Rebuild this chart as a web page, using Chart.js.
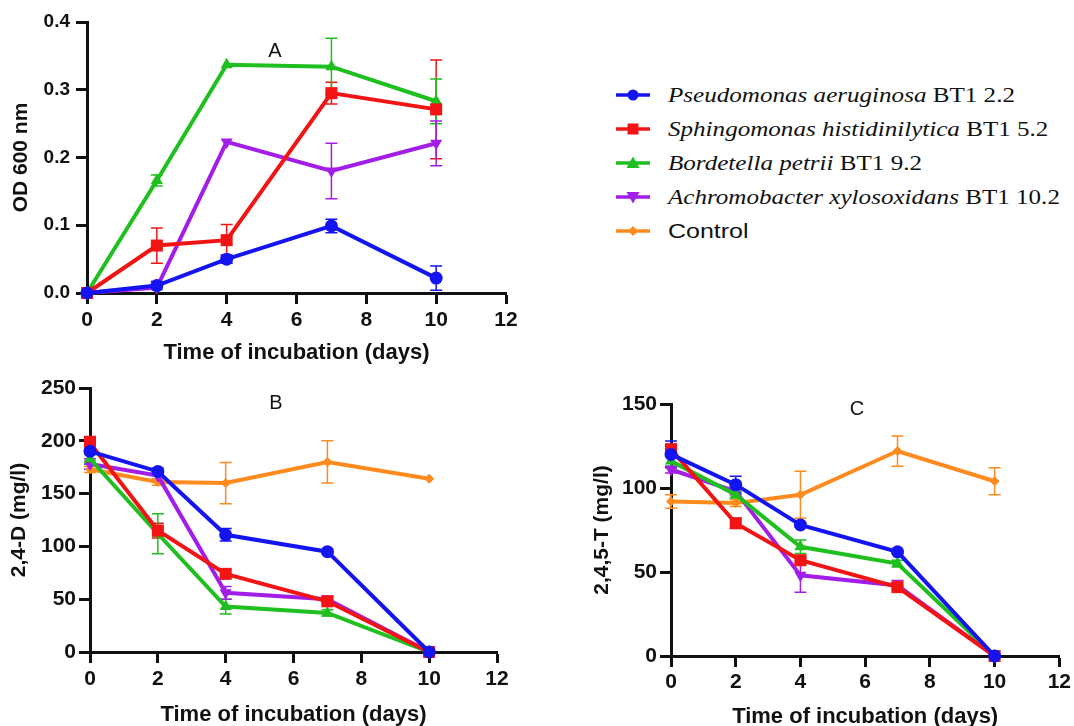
<!DOCTYPE html>
<html>
<head>
<meta charset="utf-8">
<script src="https://cdn.jsdelivr.net/npm/chart.js@4/dist/chart.umd.min.js"></script>
<style>
body { margin: 0; width: 1074px; height: 726px; overflow: hidden; background: #fff; position: relative; }
canvas { position: absolute; }
.letter { position: absolute; transform: translate(-50%, -50%); font: 20px "Liberation Sans", Arial, sans-serif; color: #111; }
#legend { position: absolute; left: 615px; top: 78px; }
.row { height: 34px; display: flex; align-items: center; color: #111; white-space: nowrap; }
.row svg { margin-right: 17px; }
.row .txt { font: 22px "Liberation Serif", "Times New Roman", serif; transform: scaleX(1.14); transform-origin: left center; }
.row .sans { font: 21px "Liberation Sans", Arial, sans-serif; transform: scaleX(1.19); transform-origin: left center; }
</style>
</head>
<body>
<canvas id="chartA" width="540" height="370" style="left:0;top:0"></canvas>
<canvas id="chartB" width="540" height="360" style="left:0;top:370px"></canvas>
<canvas id="chartC" width="514" height="360" style="left:560px;top:370px"></canvas>
<div class="letter" style="left:275px;top:50px">A</div>
<div class="letter" style="left:276px;top:402px">B</div>
<div class="letter" style="left:857px;top:408px">C</div>
<div id="legend"></div>
<script>
const days = [0, 2, 4, 7, 10]

// A - growth (OD 600)
const odPseudo = [0, 0.011, 0.050, 0.099, 0.022]
const odPseudoErr = [0, 0.006, 0.006, 0.010, 0.018]
const odSphingo = [0, 0.070, 0.078, 0.295, 0.271]
const odSphingoErr = [0, 0.026, 0.023, 0.016, 0.073]
const odBordet = [0, 0.166, 0.337, 0.334, 0.283]
const odBordetErr = [0, 0.008, 0, 0.042, 0.033]
const odAchro = [0, 0.008, 0.223, 0.180, 0.221]
const odAchroErr = [0, 0, 0, 0.041, 0.033]

// B - 2,4-D (mg/l)
const dPseudo = [190, 171, 111, 95, 0]
const dPseudoErr = [12, 3, 6, 2, 0]
const dSphingo = [198, 115, 74, 48, 0]
const dSphingoErr = [6, 7, 4, 3, 0]
const dBordet = [183, 112, 43, 37, 0]
const dBordetErr = [4, 19, 7, 3, 0]
const dAchro = [178, 167, 56, 50, 0]
const dAchroErr = [5, 5, 6, 3, 0]
const dControl = [173, 161, 160, 180, 164]
const dControlErr = [3, 3, 19.5, 20, 0]

// C - 2,4,5-T (mg/l)
const tPseudo = [120, 102, 78, 62, 0]
const tPseudoErr = [8, 5, 1, 1, 0]
const tSphingo = [123, 79, 57, 41, 0]
const tSphingoErr = [3, 3, 2, 1, 0]
const tBordet = [116, 96, 65, 55, 0]
const tBordetErr = [3, 2, 4, 2, 0]
const tAchro = [111, 98, 48, 42, 0]
const tAchroErr = [2, 2, 10, 3, 0]
const tControl = [92, 91, 96, 122, 104]
const tControlErr = [4, 2, 14, 9, 8]

const names = [
    ["Pseudomonas aeruginosa", " BT1 2.2"],
    ["Sphingomonas histidinilytica", " BT1 5.2"],
    ["Bordetella petrii", " BT1 9.2"],
    ["Achromobacter xylosoxidans", " BT1 10.2"],
    ["", "Control"]
]
const colors = ["#1414f0", "#f21414", "#1fbf1f", "#a21ee8", "#ff8a1e"]
const styles = [
    { pointStyle: "circle", pointRadius: 6.5, rotation: 0 },
    { pointStyle: "rect", pointRadius: 8.5, rotation: 0 },
    { pointStyle: "triangle", pointRadius: 7, rotation: 0 },
    { pointStyle: "triangle", pointRadius: 7, rotation: 180 },
    { pointStyle: "rectRot", pointRadius: 5, rotation: 0 }
]

const ink = "#111"
Chart.defaults.font.family = '"Liberation Sans", Arial, sans-serif'
Chart.defaults.color = ink

const errorBars = {
    id: "errorBars",
    beforeDatasetsDraw(chart) {
        let ctx = chart.ctx
        let xs = chart.scales.x, ys = chart.scales.y
        chart.data.datasets.forEach(ds => {
            if (!ds.errors) return
            ctx.save()
            ctx.strokeStyle = ds.borderColor
            ctx.lineWidth = 1.5
            ds.data.forEach((p, j) => {
                let e = ds.errors[j]
                if (!e) return
                let px = xs.getPixelForValue(p.x)
                let top = ys.getPixelForValue(p.y + e)
                let bot = ys.getPixelForValue(p.y - e)
                ctx.beginPath()
                ctx.moveTo(px, top); ctx.lineTo(px, bot)
                ctx.moveTo(px - 6, top); ctx.lineTo(px + 6, top)
                ctx.moveTo(px - 6, bot); ctx.lineTo(px + 6, bot)
                ctx.stroke()
            })
            ctx.restore()
        })
    }
}

function serie(idx, vals, errs) {
    let st = styles[idx]
    return {
        label: names[idx].join(""),
        data: days.map((d, i) => ({ x: d, y: vals[i] })),
        errors: errs,
        borderColor: colors[idx],
        backgroundColor: colors[idx],
        borderWidth: 4,
        pointStyle: st.pointStyle,
        pointRadius: st.pointRadius,
        pointRotation: st.rotation,
        pointBorderWidth: 0,
        pointHoverRadius: st.pointRadius,
        tension: 0,
        clip: false
    }
}

function makeChart(id, sets, yTitle, yMax, yStep, yDec, g) {
    let ctx = document.getElementById(id).getContext("2d")
    return new Chart(ctx, {
        type: "line",
        data: { datasets: sets },
        options: {
            responsive: false,
            animation: false,
            events: [],
            layout: { padding: g.pad },
            plugins: { legend: { display: false }, tooltip: { enabled: false } },
            scales: {
                x: {
                    type: "linear", min: 0, max: 12,
                    ticks: { stepSize: 2, color: ink, padding: g.xPad, font: { size: 21, weight: "bold" } },
                    grid: { drawOnChartArea: false, drawTicks: true, tickLength: 11, tickWidth: 3, tickColor: ink },
                    border: { color: ink, width: 3 },
                    title: { display: true, text: "Time of incubation (days)", color: ink, padding: 0, font: { size: 22, weight: "bold" } },
                    afterFit: s => { s.height = g.xh }
                },
                y: {
                    type: "linear", min: 0, max: yMax,
                    ticks: {
                        stepSize: yStep, color: ink, padding: g.yPad,
                        font: { size: g.yFont, weight: "bold" },
                        callback: v => v.toFixed(yDec)
                    },
                    grid: { drawOnChartArea: false, drawTicks: true, tickLength: 11, tickWidth: 3, tickColor: ink },
                    border: { color: ink, width: 3 },
                    title: { display: true, text: yTitle, color: ink, padding: 0, font: { size: 21, weight: "bold" } },
                    afterFit: s => { s.width = g.yw }
                }
            }
        },
        plugins: [errorBars]
    })
}

makeChart("chartA", [
    serie(0, odPseudo, odPseudoErr),
    serie(1, odSphingo, odSphingoErr),
    serie(2, odBordet, odBordetErr),
    serie(3, odAchro, odAchroErr)
], "OD 600 nm", 0.4, 0.1, 1,
    { pad: { left: 9, right: 34, top: 22, bottom: 4 }, yw: 78, xh: 73, yFont: 19, yPad: 6, xPad: 4 })

makeChart("chartB", [
    serie(0, dPseudo, dPseudoErr),
    serie(1, dSphingo, dSphingoErr),
    serie(2, dBordet, dBordetErr),
    serie(3, dAchro, dAchroErr),
    serie(4, dControl, dControlErr)
], "2,4-D (mg/l)", 250, 50, 0,
    { pad: { left: 7, right: 43, top: 18, bottom: 2 }, yw: 83, xh: 76, yFont: 21, yPad: 3, xPad: 4 })

makeChart("chartC", [
    serie(0, tPseudo, tPseudoErr),
    serie(1, tSphingo, tSphingoErr),
    serie(2, tBordet, tBordetErr),
    serie(3, tAchro, tAchroErr),
    serie(4, tControl, tControlErr)
], "2,4,5-T (mg/l)", 150, 50, 0,
    { pad: { left: 30, right: 14, top: 34, bottom: 0 }, yw: 81, xh: 74, yFont: 21, yPad: 3, xPad: 3 })

// legend
const marks = [
    '<circle cx="18" cy="8" r="5.5"/>',
    '<rect x="12.5" y="2.5" width="11" height="11"/>',
    '<polygon points="18,1.5 24.5,13 11.5,13"/>',
    '<polygon points="18,14.5 24.5,3 11.5,3"/>',
    '<polygon points="18,3 23,8 18,13 13,8"/>'
]
let legend = document.getElementById("legend")
names.forEach((n, i) => {
    let c = colors[i]
    let svg = `<svg width="36" height="16"><line x1="1" y1="8" x2="35" y2="8" stroke="${c}" stroke-width="3.5"/><g fill="${c}">${marks[i]}</g></svg>`
    let txt = n[0] ? `<span class="txt"><i>${n[0]}</i>${n[1]}</span>` : `<span class="sans">${n[1]}</span>`
    legend.innerHTML += `<div class="row">${svg}${txt}</div>`
})
</script>
</body>
</html>
